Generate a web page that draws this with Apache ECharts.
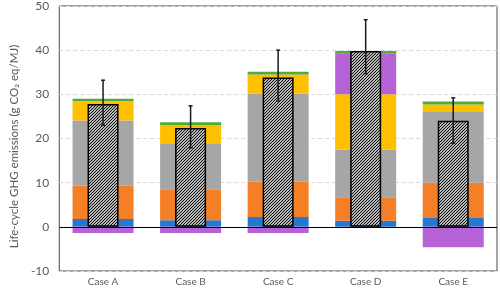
<!DOCTYPE html>
<html>
<head>
<meta charset="utf-8">
<script src="https://cdn.jsdelivr.net/npm/echarts@6/dist/echarts.min.js"></script>
<style>html,body{margin:0;padding:0;background:#fff}#c{width:500px;height:289px}</style>
</head>
<body>
<div id="c"></div>
<script>
const categories = ['Case A', 'Case B', 'Case C', 'Case D', 'Case E'];
const blue   = [1.8, 1.5, 2.2, 1.35, 2.0];
const orange = [7.5, 7.0, 8.0, 5.35, 8.0];
const gray   = [14.8, 10.4, 20.0, 10.8, 16.0];
const yellow = [4.4, 4.1, 4.3, 12.5, 1.7];
const purple = [-1.4, -1.4, -1.4, 9.2, -4.6];
const green  = [0.5, 0.7, 0.6, 0.6, 0.7];
const total  = [27.8, 22.4, 33.8, 39.8, 24.0];
const errLow  = [23.0, 17.9, 28.5, 34.7, 18.9];
const errHigh = [33.2, 27.4, 40.0, 46.9, 29.2];
const yTicks = [-10, 0, 10, 20, 30, 40, 50];

const P = 3;
const pat = document.createElement('canvas');
pat.width = P; pat.height = P;
const g = pat.getContext('2d');
g.fillStyle = '#fff'; g.fillRect(0, 0, P, P);
g.strokeStyle = '#000'; g.lineWidth = 1.1;
g.beginPath();
g.moveTo(0, P); g.lineTo(P, 0);
g.moveTo(-P, P); g.lineTo(P, -P);
g.moveTo(0, 2 * P); g.lineTo(2 * P, 0);
g.stroke();

const font = 'Lato, "Open Sans", sans-serif';
const chart = echarts.init(document.getElementById('c'), null, {renderer: 'canvas'});

function stackSeries(name, data, color) {
  return {
    name: name, type: 'bar', stack: 'total', xAxisIndex: 0, barWidth: 61,
    data: data, itemStyle: {color: color}, z: 2
  };
}

chart.setOption({
  animation: false,
  textStyle: {fontFamily: font},
  grid: {left: 38, right: 3, top: 6, bottom: 18, show: true, borderColor: '#4a4a4a', borderWidth: 1},
  xAxis: [
    {type: 'category', data: categories, axisLine: {show: false, onZero: false}, axisTick: {show: false},
     axisLabel: {color: '#595959', fontSize: 10, margin: 6, fontFamily: font}},
    {type: 'category', data: categories, show: false}
  ],
  yAxis: {
    type: 'value', min: yTicks[0], max: yTicks[yTicks.length - 1], interval: 10,
    axisLine: {show: false}, axisTick: {show: false},
    axisLabel: {color: '#595959', fontSize: 12, margin: 10, fontFamily: font},
    splitLine: {lineStyle: {color: '#d9d9d9', type: [4, 3]}},
    name: 'Life-cycle GHG emissions (g CO₂ eq/MJ)', nameLocation: 'middle', nameGap: 25,
    nameTextStyle: {color: '#595959', fontSize: 11.5, fontFamily: font, padding: [0, 16, 0, 0]}
  },
  series: [
    stackSeries('Blue', blue, '#2378cf'),
    stackSeries('Orange', orange, '#f57f27'),
    stackSeries('Gray', gray, '#a6a6a6'),
    stackSeries('Yellow', yellow, '#ffc000'),
    stackSeries('Purple', purple, '#b462d6'),
    stackSeries('Green', green, '#55a83a'),
    {
      name: 'Total', type: 'bar', xAxisIndex: 1, barWidth: 31, data: total, z: 3,
      itemStyle: {color: {image: pat, repeat: 'repeat'}, borderColor: '#000', borderWidth: 1.5},
      markLine: {silent: true, symbol: 'none', label: {show: false},
        lineStyle: {color: '#000', type: 'solid', width: 1}, data: [{yAxis: 0}]}
    },
    {
      name: 'Error', type: 'custom', xAxisIndex: 1, z: 10,
      data: categories.map((c, i) => [i, errLow[i], errHigh[i]]),
      renderItem: function (params, api) {
        const x = api.value(0);
        const lo = api.coord([x, api.value(1)]);
        const hi = api.coord([x, api.value(2)]);
        const st = {stroke: '#1a1a1a', lineWidth: 1.5};
        const w = 2;
        return {type: 'group', children: [
          {type: 'line', shape: {x1: lo[0], y1: lo[1], x2: hi[0], y2: hi[1]}, style: st},
          {type: 'line', shape: {x1: hi[0] - w, y1: hi[1], x2: hi[0] + w, y2: hi[1]}, style: st},
          {type: 'line', shape: {x1: lo[0] - w, y1: lo[1], x2: lo[0] + w, y2: lo[1]}, style: st}
        ]};
      }
    }
  ]
});
</script>
</body>
</html>
